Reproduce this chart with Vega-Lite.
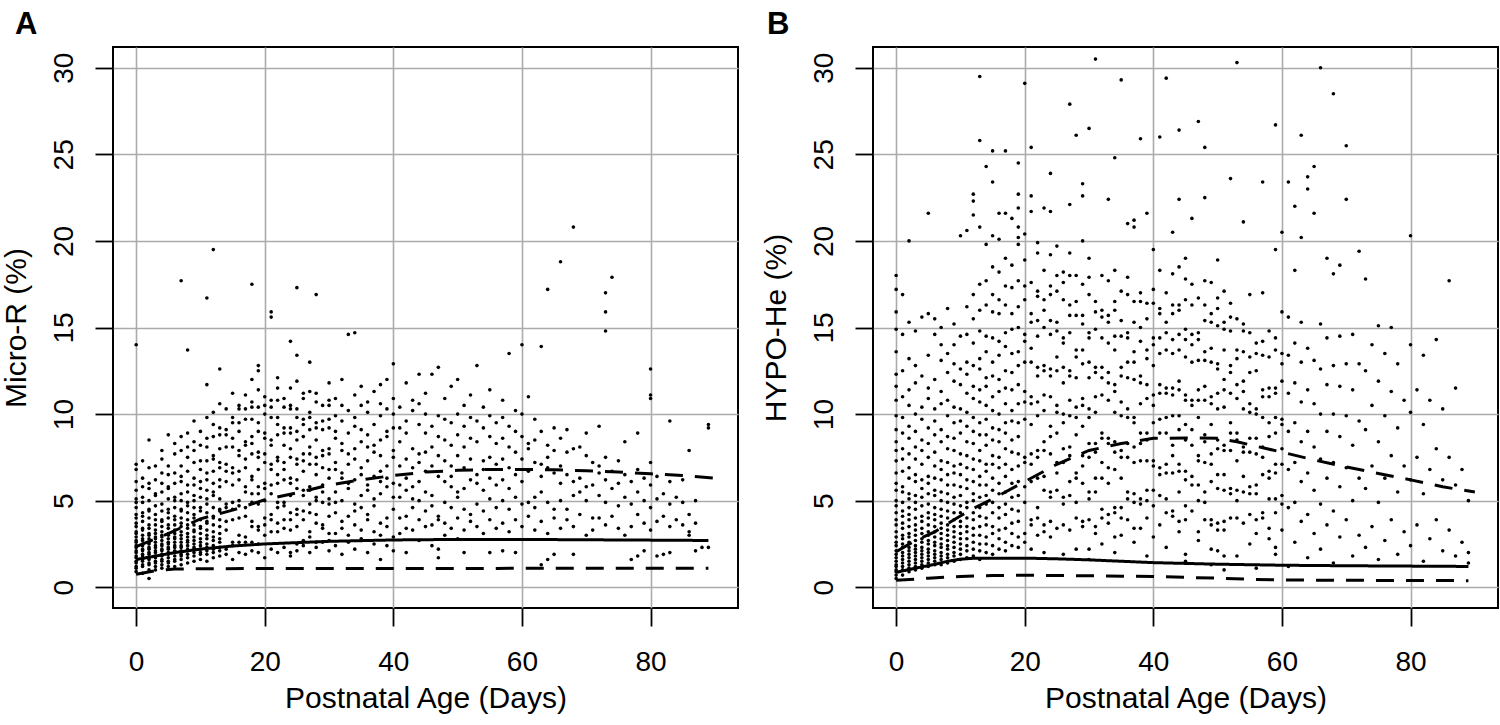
{
"$schema":"https://vega.github.io/schema/vega-lite/v6.json",
"autosize":{"type":"pad"},
"padding":{"left":0,"top":8,"right":0,"bottom":0},
"background":"white",
"config":{
"view":{"stroke":"black","strokeWidth":2},
"axis":{"domain":false,"grid":true,"gridColor":"#ababab","gridWidth":1.6,"tickColor":"black","tickWidth":1.8,"tickSize":18,"labelFont":"Liberation Sans","labelFontSize":28,"labelColor":"black","titleFont":"Liberation Sans","titleFontSize":30,"titleFontWeight":"normal","titleColor":"black"}
},
"datasets":{
"linA":[
{"q":"lo","d":0,"v":0.75},{"q":"lo","d":3,"v":0.95},{"q":"lo","d":6,"v":1.05},{"q":"lo","d":10,"v":1.07},{"q":"lo","d":20,"v":1.08},{"q":"lo","d":40,"v":1.08},{"q":"lo","d":60,"v":1.09},{"q":"lo","d":89,"v":1.09},
{"q":"med","d":0,"v":1.6},{"q":"med","d":3,"v":1.8},{"q":"med","d":6,"v":2.0},{"q":"med","d":10,"v":2.2},{"q":"med","d":15,"v":2.38},{"q":"med","d":20,"v":2.5},{"q":"med","d":30,"v":2.65},{"q":"med","d":40,"v":2.73},{"q":"med","d":50,"v":2.76},{"q":"med","d":60,"v":2.76},{"q":"med","d":70,"v":2.74},{"q":"med","d":80,"v":2.72},{"q":"med","d":89,"v":2.7},
{"q":"hi","d":0,"v":2.35},{"q":"hi","d":5,"v":3.1},{"q":"hi","d":10,"v":3.95},{"q":"hi","d":15,"v":4.45},{"q":"hi","d":20,"v":5.05},{"q":"hi","d":25,"v":5.45},{"q":"hi","d":30,"v":5.9},{"q":"hi","d":35,"v":6.2},{"q":"hi","d":40,"v":6.45},{"q":"hi","d":45,"v":6.65},{"q":"hi","d":50,"v":6.75},{"q":"hi","d":55,"v":6.8},{"q":"hi","d":60,"v":6.8},{"q":"hi","d":65,"v":6.78},{"q":"hi","d":70,"v":6.72},{"q":"hi","d":75,"v":6.65},{"q":"hi","d":80,"v":6.55},{"q":"hi","d":85,"v":6.45},{"q":"hi","d":90,"v":6.3}
],
"linB":[
{"q":"lo","d":0,"v":0.4},{"q":"lo","d":5,"v":0.52},{"q":"lo","d":10,"v":0.62},{"q":"lo","d":15,"v":0.67},{"q":"lo","d":20,"v":0.69},{"q":"lo","d":30,"v":0.66},{"q":"lo","d":40,"v":0.62},{"q":"lo","d":50,"v":0.52},{"q":"lo","d":55,"v":0.46},{"q":"lo","d":60,"v":0.42},{"q":"lo","d":70,"v":0.4},{"q":"lo","d":89,"v":0.38},
{"q":"med","d":0,"v":0.86},{"q":"med","d":3,"v":1.1},{"q":"med","d":6,"v":1.32},{"q":"med","d":8,"v":1.5},{"q":"med","d":10,"v":1.62},{"q":"med","d":12,"v":1.67},{"q":"med","d":20,"v":1.68},{"q":"med","d":25,"v":1.64},{"q":"med","d":30,"v":1.58},{"q":"med","d":35,"v":1.5},{"q":"med","d":40,"v":1.42},{"q":"med","d":50,"v":1.33},{"q":"med","d":60,"v":1.27},{"q":"med","d":70,"v":1.24},{"q":"med","d":89,"v":1.2},
{"q":"hi","d":0,"v":2.05},{"q":"hi","d":3,"v":2.7},{"q":"hi","d":6,"v":3.2},{"q":"hi","d":9,"v":3.9},{"q":"hi","d":12,"v":4.55},{"q":"hi","d":15,"v":5.1},{"q":"hi","d":20,"v":6.1},{"q":"hi","d":25,"v":7.1},{"q":"hi","d":30,"v":7.9},{"q":"hi","d":35,"v":8.3},{"q":"hi","d":40,"v":8.6},{"q":"hi","d":45,"v":8.62},{"q":"hi","d":50,"v":8.6},{"q":"hi","d":53,"v":8.4},{"q":"hi","d":60,"v":7.8},{"q":"hi","d":65,"v":7.35},{"q":"hi","d":70,"v":6.95},{"q":"hi","d":75,"v":6.57},{"q":"hi","d":80,"v":6.2},{"q":"hi","d":85,"v":5.8},{"q":"hi","d":90,"v":5.5}
],
"ptsA":[
{"d":0,"v":0.9},{"d":0,"v":1.1},{"d":0,"v":1.2},{"d":0,"v":1.4},{"d":0,"v":1.5},{"d":0,"v":1.7},{"d":0,"v":1.8},{"d":0,"v":2.0},{"d":0,"v":2.1},{"d":0,"v":2.3},{"d":0,"v":2.4},{"d":0,"v":2.6},{"d":0,"v":2.7},{"d":0,"v":2.9},{"d":0,"v":3.1},{"d":0,"v":3.2},{"d":0,"v":3.5},{"d":0,"v":3.7},{"d":0,"v":4.0},{"d":0,"v":4.2},{"d":0,"v":4.6},{"d":0,"v":4.9},{"d":0,"v":5.1},{"d":0,"v":5.6},{"d":0,"v":6.1},{"d":0,"v":6.8},{"d":0,"v":7.1},{"d":0,"v":14.0},
{"d":1,"v":0.8},{"d":1,"v":1.2},{"d":1,"v":1.3},{"d":1,"v":1.5},{"d":1,"v":1.6},{"d":1,"v":1.8},{"d":1,"v":1.9},{"d":1,"v":2.1},{"d":1,"v":2.2},{"d":1,"v":2.4},{"d":1,"v":2.5},{"d":1,"v":2.7},{"d":1,"v":2.8},{"d":1,"v":3.0},{"d":1,"v":3.3},{"d":1,"v":3.4},{"d":1,"v":3.8},{"d":1,"v":4.1},{"d":1,"v":4.3},{"d":1,"v":4.9},{"d":1,"v":5.2},{"d":1,"v":5.8},{"d":1,"v":6.3},{"d":1,"v":7.3},
{"d":2,"v":0.5},{"d":2,"v":1.0},{"d":2,"v":1.3},{"d":2,"v":1.4},{"d":2,"v":1.6},{"d":2,"v":1.7},{"d":2,"v":1.9},{"d":2,"v":2.0},{"d":2,"v":2.2},{"d":2,"v":2.3},{"d":2,"v":2.5},{"d":2,"v":2.6},{"d":2,"v":2.8},{"d":2,"v":3.0},{"d":2,"v":3.1},{"d":2,"v":3.4},{"d":2,"v":3.6},{"d":2,"v":4.0},{"d":2,"v":4.4},{"d":2,"v":4.5},{"d":2,"v":5.0},{"d":2,"v":5.7},{"d":2,"v":6.0},{"d":2,"v":6.9},{"d":2,"v":8.5},
{"d":3,"v":1.0},{"d":3,"v":1.2},{"d":3,"v":1.4},{"d":3,"v":1.5},{"d":3,"v":1.7},{"d":3,"v":1.8},{"d":3,"v":2.0},{"d":3,"v":2.1},{"d":3,"v":2.3},{"d":3,"v":2.4},{"d":3,"v":2.6},{"d":3,"v":2.8},{"d":3,"v":2.9},{"d":3,"v":3.1},{"d":3,"v":3.3},{"d":3,"v":3.6},{"d":3,"v":3.9},{"d":3,"v":4.2},{"d":3,"v":4.7},{"d":3,"v":5.3},{"d":3,"v":5.4},{"d":3,"v":6.2},{"d":3,"v":7.0},
{"d":4,"v":1.1},{"d":4,"v":1.3},{"d":4,"v":1.5},{"d":4,"v":1.6},{"d":4,"v":1.8},{"d":4,"v":1.9},{"d":4,"v":2.1},{"d":4,"v":2.2},{"d":4,"v":2.4},{"d":4,"v":2.5},{"d":4,"v":2.7},{"d":4,"v":2.9},{"d":4,"v":3.0},{"d":4,"v":3.2},{"d":4,"v":3.5},{"d":4,"v":3.8},{"d":4,"v":3.9},{"d":4,"v":4.4},{"d":4,"v":4.8},{"d":4,"v":5.5},{"d":4,"v":6.0},{"d":4,"v":6.6},{"d":4,"v":7.4},{"d":4,"v":7.9},
{"d":5,"v":1.2},{"d":5,"v":1.4},{"d":5,"v":1.5},{"d":5,"v":1.7},{"d":5,"v":1.9},{"d":5,"v":2.0},{"d":5,"v":2.2},{"d":5,"v":2.3},{"d":5,"v":2.5},{"d":5,"v":2.6},{"d":5,"v":2.8},{"d":5,"v":3.0},{"d":5,"v":3.1},{"d":5,"v":3.4},{"d":5,"v":3.6},{"d":5,"v":4.0},{"d":5,"v":4.3},{"d":5,"v":4.5},{"d":5,"v":5.1},{"d":5,"v":5.7},{"d":5,"v":5.8},{"d":5,"v":6.5},{"d":5,"v":7.0},{"d":5,"v":8.8},
{"d":6,"v":1.2},{"d":6,"v":1.5},{"d":6,"v":1.6},{"d":6,"v":1.8},{"d":6,"v":2.0},{"d":6,"v":2.1},{"d":6,"v":2.3},{"d":6,"v":2.4},{"d":6,"v":2.6},{"d":6,"v":2.8},{"d":6,"v":2.9},{"d":6,"v":3.1},{"d":6,"v":3.3},{"d":6,"v":3.6},{"d":6,"v":3.9},{"d":6,"v":4.1},{"d":6,"v":4.6},{"d":6,"v":5.0},{"d":6,"v":5.2},{"d":6,"v":6.0},{"d":6,"v":6.6},{"d":6,"v":7.7},{"d":6,"v":8.3},
{"d":7,"v":1.3},{"d":7,"v":1.6},{"d":7,"v":1.8},{"d":7,"v":1.9},{"d":7,"v":2.1},{"d":7,"v":2.3},{"d":7,"v":2.4},{"d":7,"v":2.6},{"d":7,"v":2.8},{"d":7,"v":3.0},{"d":7,"v":3.2},{"d":7,"v":3.5},{"d":7,"v":3.7},{"d":7,"v":4.0},{"d":7,"v":4.4},{"d":7,"v":4.5},{"d":7,"v":5.0},{"d":7,"v":5.4},{"d":7,"v":6.1},{"d":7,"v":6.4},{"d":7,"v":7.0},{"d":7,"v":7.9},{"d":7,"v":8.7},{"d":7,"v":17.7},
{"d":8,"v":1.4},{"d":8,"v":1.7},{"d":8,"v":1.9},{"d":8,"v":2.1},{"d":8,"v":2.2},{"d":8,"v":2.4},{"d":8,"v":2.6},{"d":8,"v":2.7},{"d":8,"v":2.9},{"d":8,"v":3.1},{"d":8,"v":3.4},{"d":8,"v":3.6},{"d":8,"v":3.9},{"d":8,"v":4.3},{"d":8,"v":4.7},{"d":8,"v":4.9},{"d":8,"v":5.5},{"d":8,"v":5.9},{"d":8,"v":6.7},{"d":8,"v":7.5},{"d":8,"v":8.1},{"d":8,"v":8.9},{"d":8,"v":13.7},
{"d":9,"v":1.5},{"d":9,"v":1.8},{"d":9,"v":2.0},{"d":9,"v":2.2},{"d":9,"v":2.3},{"d":9,"v":2.5},{"d":9,"v":2.7},{"d":9,"v":2.9},{"d":9,"v":3.2},{"d":9,"v":3.3},{"d":9,"v":3.6},{"d":9,"v":4.0},{"d":9,"v":4.2},{"d":9,"v":4.6},{"d":9,"v":5.0},{"d":9,"v":5.3},{"d":9,"v":5.9},{"d":9,"v":6.3},{"d":9,"v":7.2},{"d":9,"v":7.9},{"d":9,"v":8.4},{"d":9,"v":9.6},
{"d":10,"v":1.6},{"d":10,"v":1.9},{"d":10,"v":2.0},{"d":10,"v":2.2},{"d":10,"v":2.4},{"d":10,"v":2.6},{"d":10,"v":2.8},{"d":10,"v":3.1},{"d":10,"v":3.4},{"d":10,"v":3.5},{"d":10,"v":3.9},{"d":10,"v":4.4},{"d":10,"v":4.6},{"d":10,"v":5.2},{"d":10,"v":5.7},{"d":10,"v":6.1},{"d":10,"v":6.8},{"d":10,"v":7.3},{"d":10,"v":8.2},{"d":10,"v":9.0},
{"d":11,"v":1.5},{"d":11,"v":1.9},{"d":11,"v":2.1},{"d":11,"v":2.3},{"d":11,"v":2.5},{"d":11,"v":2.8},{"d":11,"v":3.0},{"d":11,"v":3.3},{"d":11,"v":3.7},{"d":11,"v":3.8},{"d":11,"v":4.3},{"d":11,"v":4.8},{"d":11,"v":5.1},{"d":11,"v":5.6},{"d":11,"v":6.2},{"d":11,"v":6.6},{"d":11,"v":7.3},{"d":11,"v":8.1},{"d":11,"v":8.6},{"d":11,"v":9.8},{"d":11,"v":11.7},{"d":11,"v":16.7},
{"d":12,"v":1.7},{"d":12,"v":2.0},{"d":12,"v":2.2},{"d":12,"v":2.4},{"d":12,"v":2.7},{"d":12,"v":2.9},{"d":12,"v":3.2},{"d":12,"v":3.6},{"d":12,"v":4.0},{"d":12,"v":4.1},{"d":12,"v":4.6},{"d":12,"v":5.3},{"d":12,"v":5.5},{"d":12,"v":6.0},{"d":12,"v":6.7},{"d":12,"v":7.4},{"d":12,"v":7.6},{"d":12,"v":8.7},{"d":12,"v":9.4},{"d":12,"v":10.1},{"d":12,"v":19.5},
{"d":13,"v":1.8},{"d":13,"v":2.1},{"d":13,"v":2.3},{"d":13,"v":2.6},{"d":13,"v":2.8},{"d":13,"v":3.1},{"d":13,"v":3.5},{"d":13,"v":3.9},{"d":13,"v":4.4},{"d":13,"v":4.5},{"d":13,"v":5.1},{"d":13,"v":5.8},{"d":13,"v":6.2},{"d":13,"v":6.9},{"d":13,"v":7.2},{"d":13,"v":8.0},{"d":13,"v":8.8},{"d":13,"v":9.2},{"d":13,"v":10.6},{"d":13,"v":12.6},
{"d":14,"v":1.9},{"d":14,"v":2.2},{"d":14,"v":3.3},{"d":14,"v":3.8},{"d":14,"v":4.6},{"d":14,"v":4.8},{"d":14,"v":6.1},{"d":14,"v":6.7},{"d":14,"v":7.1},{"d":14,"v":8.1},{"d":14,"v":8.8},{"d":14,"v":9.1},{"d":14,"v":10.3},
{"d":15,"v":1.6},{"d":15,"v":2.4},{"d":15,"v":2.6},{"d":15,"v":3.9},{"d":15,"v":4.5},{"d":15,"v":4.9},{"d":15,"v":5.9},{"d":15,"v":6.6},{"d":15,"v":6.9},{"d":15,"v":8.1},{"d":15,"v":8.6},{"d":15,"v":9.5},{"d":15,"v":9.8},{"d":15,"v":11.2},
{"d":16,"v":2.0},{"d":16,"v":2.6},{"d":16,"v":3.0},{"d":16,"v":4.0},{"d":16,"v":4.7},{"d":16,"v":5.0},{"d":16,"v":6.2},{"d":16,"v":6.7},{"d":16,"v":7.6},{"d":16,"v":7.9},{"d":16,"v":9.0},{"d":16,"v":9.5},{"d":16,"v":10.3},{"d":16,"v":10.5},
{"d":17,"v":1.9},{"d":17,"v":2.6},{"d":17,"v":2.9},{"d":17,"v":4.1},{"d":17,"v":4.6},{"d":17,"v":5.5},{"d":17,"v":5.8},{"d":17,"v":6.9},{"d":17,"v":7.4},{"d":17,"v":8.2},{"d":17,"v":8.4},{"d":17,"v":9.7},{"d":17,"v":10.3},{"d":17,"v":11.1},
{"d":18,"v":2.1},{"d":18,"v":2.6},{"d":18,"v":3.5},{"d":18,"v":3.8},{"d":18,"v":4.9},{"d":18,"v":5.4},{"d":18,"v":6.2},{"d":18,"v":6.4},{"d":18,"v":7.7},{"d":18,"v":8.3},{"d":18,"v":8.7},{"d":18,"v":9.7},{"d":18,"v":10.4},{"d":18,"v":10.7},{"d":18,"v":12.0},{"d":18,"v":17.5},
{"d":19,"v":2.0},{"d":19,"v":2.5},{"d":19,"v":3.3},{"d":19,"v":3.5},{"d":19,"v":4.8},{"d":19,"v":5.4},{"d":19,"v":5.8},{"d":19,"v":6.8},{"d":19,"v":7.5},{"d":19,"v":7.8},{"d":19,"v":9.0},{"d":19,"v":9.5},{"d":19,"v":10.4},{"d":19,"v":11.4},{"d":19,"v":12.5},{"d":19,"v":12.8},
{"d":20,"v":1.7},{"d":20,"v":3.0},{"d":20,"v":3.6},{"d":20,"v":4.0},{"d":20,"v":5.0},{"d":20,"v":5.7},{"d":20,"v":6.0},{"d":20,"v":7.2},{"d":20,"v":7.7},{"d":20,"v":8.6},{"d":20,"v":8.9},{"d":20,"v":10.0},{"d":20,"v":10.5},{"d":20,"v":11.0},
{"d":21,"v":2.2},{"d":21,"v":3.2},{"d":21,"v":3.9},{"d":21,"v":4.2},{"d":21,"v":5.4},{"d":21,"v":5.9},{"d":21,"v":6.8},{"d":21,"v":7.1},{"d":21,"v":8.2},{"d":21,"v":8.5},{"d":21,"v":9.8},{"d":21,"v":10.4},{"d":21,"v":10.8},{"d":21,"v":15.6},{"d":21,"v":15.9},
{"d":22,"v":2.0},{"d":22,"v":3.2},{"d":22,"v":3.7},{"d":22,"v":4.6},{"d":22,"v":4.9},{"d":22,"v":6.0},{"d":22,"v":6.5},{"d":22,"v":7.3},{"d":22,"v":7.5},{"d":22,"v":8.8},{"d":22,"v":9.4},{"d":22,"v":9.8},{"d":22,"v":10.8},{"d":22,"v":11.5},{"d":22,"v":12.1},
{"d":23,"v":2.3},{"d":23,"v":3.4},{"d":23,"v":3.9},{"d":23,"v":4.7},{"d":23,"v":4.9},{"d":23,"v":6.2},{"d":23,"v":6.8},{"d":23,"v":7.2},{"d":23,"v":8.2},{"d":23,"v":8.9},{"d":23,"v":9.2},{"d":23,"v":10.4},{"d":23,"v":10.9},
{"d":24,"v":1.8},{"d":24,"v":2.0},{"d":24,"v":3.3},{"d":24,"v":3.9},{"d":24,"v":4.3},{"d":24,"v":5.3},{"d":24,"v":6.0},{"d":24,"v":6.3},{"d":24,"v":7.5},{"d":24,"v":8.0},{"d":24,"v":8.9},{"d":24,"v":9.2},{"d":24,"v":10.3},{"d":24,"v":10.5},{"d":24,"v":11.5},{"d":24,"v":14.2},
{"d":25,"v":2.1},{"d":25,"v":2.5},{"d":25,"v":3.5},{"d":25,"v":4.2},{"d":25,"v":4.5},{"d":25,"v":5.7},{"d":25,"v":6.2},{"d":25,"v":7.1},{"d":25,"v":7.4},{"d":25,"v":8.5},{"d":25,"v":9.0},{"d":25,"v":9.8},{"d":25,"v":10.3},{"d":25,"v":11.9},{"d":25,"v":13.4},{"d":25,"v":17.3},
{"d":26,"v":2.4},{"d":26,"v":2.7},{"d":26,"v":3.9},{"d":26,"v":4.4},{"d":26,"v":5.3},{"d":26,"v":5.6},{"d":26,"v":6.7},{"d":26,"v":7.3},{"d":26,"v":7.7},{"d":26,"v":8.7},{"d":26,"v":9.4},{"d":26,"v":9.7},{"d":26,"v":10.9},{"d":26,"v":11.2},
{"d":27,"v":2.0},{"d":27,"v":2.9},{"d":27,"v":3.2},{"d":27,"v":4.3},{"d":27,"v":4.8},{"d":27,"v":5.6},{"d":27,"v":5.8},{"d":27,"v":7.1},{"d":27,"v":7.7},{"d":27,"v":8.1},{"d":27,"v":9.1},{"d":27,"v":9.8},{"d":27,"v":10.1},{"d":27,"v":11.3},{"d":27,"v":13.0},
{"d":28,"v":2.3},{"d":28,"v":2.6},{"d":28,"v":3.7},{"d":28,"v":4.2},{"d":28,"v":5.0},{"d":28,"v":5.2},{"d":28,"v":6.5},{"d":28,"v":7.1},{"d":28,"v":7.5},{"d":28,"v":8.5},{"d":28,"v":9.2},{"d":28,"v":9.5},{"d":28,"v":10.7},{"d":28,"v":11.2},{"d":28,"v":16.9},
{"d":29,"v":2.6},{"d":29,"v":3.4},{"d":29,"v":3.6},{"d":29,"v":4.9},{"d":29,"v":5.5},{"d":29,"v":5.9},{"d":29,"v":6.9},{"d":29,"v":7.6},{"d":29,"v":7.9},{"d":29,"v":9.1},{"d":29,"v":9.6},{"d":29,"v":10.5},
{"d":30,"v":2.1},{"d":30,"v":2.7},{"d":30,"v":3.1},{"d":30,"v":4.1},{"d":30,"v":4.8},{"d":30,"v":5.1},{"d":30,"v":6.3},{"d":30,"v":6.8},{"d":30,"v":7.7},{"d":30,"v":8.0},{"d":30,"v":9.2},{"d":30,"v":9.7},{"d":30,"v":10.5},{"d":30,"v":10.8},{"d":30,"v":11.8},
{"d":31,"v":2.4},{"d":31,"v":3.1},{"d":31,"v":4.3},{"d":31,"v":4.9},{"d":31,"v":5.5},{"d":31,"v":6.8},{"d":31,"v":7.2},{"d":31,"v":8.6},{"d":31,"v":9.0},{"d":31,"v":9.9},{"d":31,"v":10.9},
{"d":32,"v":1.9},{"d":32,"v":3.4},{"d":32,"v":3.8},{"d":32,"v":5.0},{"d":32,"v":6.3},{"d":32,"v":6.6},{"d":32,"v":7.9},{"d":32,"v":8.3},{"d":32,"v":9.6},{"d":32,"v":10.5},{"d":32,"v":12.0},
{"d":33,"v":2.6},{"d":33,"v":3.0},{"d":33,"v":4.1},{"d":33,"v":5.7},{"d":33,"v":6.0},{"d":33,"v":7.1},{"d":33,"v":7.7},{"d":33,"v":8.9},{"d":33,"v":10.2},{"d":33,"v":14.6},
{"d":34,"v":2.2},{"d":34,"v":3.6},{"d":34,"v":4.4},{"d":34,"v":4.8},{"d":34,"v":6.2},{"d":34,"v":7.4},{"d":34,"v":8.0},{"d":34,"v":9.3},{"d":34,"v":9.8},{"d":34,"v":11.1},{"d":34,"v":14.7},
{"d":35,"v":2.8},{"d":35,"v":3.3},{"d":35,"v":4.6},{"d":35,"v":5.3},{"d":35,"v":6.5},{"d":35,"v":6.9},{"d":35,"v":8.4},{"d":35,"v":9.1},{"d":35,"v":10.5},{"d":35,"v":11.6},
{"d":36,"v":2.0},{"d":36,"v":3.9},{"d":36,"v":4.2},{"d":36,"v":5.6},{"d":36,"v":5.9},{"d":36,"v":7.3},{"d":36,"v":8.1},{"d":36,"v":8.8},{"d":36,"v":10.1},{"d":36,"v":10.7},
{"d":37,"v":2.5},{"d":37,"v":3.2},{"d":37,"v":4.7},{"d":37,"v":5.1},{"d":37,"v":6.4},{"d":37,"v":7.8},{"d":37,"v":8.2},{"d":37,"v":9.4},{"d":37,"v":11.3},
{"d":38,"v":1.6},{"d":38,"v":3.0},{"d":38,"v":3.7},{"d":38,"v":5.4},{"d":38,"v":6.1},{"d":38,"v":6.7},{"d":38,"v":7.6},{"d":38,"v":8.5},{"d":38,"v":9.9},{"d":38,"v":10.6},{"d":38,"v":11.7},
{"d":39,"v":2.4},{"d":39,"v":3.5},{"d":39,"v":4.0},{"d":39,"v":5.8},{"d":39,"v":6.3},{"d":39,"v":7.0},{"d":39,"v":8.7},{"d":39,"v":9.0},{"d":39,"v":10.3},{"d":39,"v":12.0},
{"d":40,"v":2.1},{"d":40,"v":2.9},{"d":40,"v":4.5},{"d":40,"v":5.2},{"d":40,"v":6.0},{"d":40,"v":7.5},{"d":40,"v":7.9},{"d":40,"v":9.2},{"d":40,"v":10.0},{"d":40,"v":10.9},{"d":40,"v":12.9},
{"d":41,"v":3.1},{"d":41,"v":4.0},{"d":41,"v":5.2},{"d":41,"v":5.9},{"d":41,"v":7.0},{"d":41,"v":8.4},{"d":41,"v":9.2},{"d":41,"v":10.4},
{"d":42,"v":2.0},{"d":42,"v":3.4},{"d":42,"v":4.1},{"d":42,"v":5.6},{"d":42,"v":6.3},{"d":42,"v":7.4},{"d":42,"v":8.9},{"d":42,"v":9.6},{"d":42,"v":11.8},
{"d":43,"v":3.3},{"d":43,"v":4.6},{"d":43,"v":5.1},{"d":43,"v":5.8},{"d":43,"v":6.9},{"d":43,"v":8.0},{"d":43,"v":10.2},{"d":43,"v":10.8},
{"d":44,"v":2.7},{"d":44,"v":3.9},{"d":44,"v":5.0},{"d":44,"v":6.1},{"d":44,"v":7.2},{"d":44,"v":7.7},{"d":44,"v":9.4},{"d":44,"v":10.6},{"d":44,"v":12.3},
{"d":45,"v":3.5},{"d":45,"v":4.4},{"d":45,"v":5.5},{"d":45,"v":6.7},{"d":45,"v":7.8},{"d":45,"v":8.9},{"d":45,"v":10.0},{"d":45,"v":11.2},
{"d":46,"v":2.4},{"d":46,"v":3.6},{"d":46,"v":4.7},{"d":46,"v":5.3},{"d":46,"v":7.0},{"d":46,"v":8.1},{"d":46,"v":9.3},{"d":46,"v":12.3},
{"d":47,"v":1.7},{"d":47,"v":2.2},{"d":47,"v":3.9},{"d":47,"v":4.1},{"d":47,"v":6.4},{"d":47,"v":7.6},{"d":47,"v":8.7},{"d":47,"v":9.9},{"d":47,"v":12.7},
{"d":48,"v":3.0},{"d":48,"v":3.7},{"d":48,"v":4.9},{"d":48,"v":6.1},{"d":48,"v":7.3},{"d":48,"v":8.5},{"d":48,"v":9.7},{"d":48,"v":10.9},
{"d":49,"v":3.4},{"d":49,"v":4.6},{"d":49,"v":5.8},{"d":49,"v":6.4},{"d":49,"v":7.0},{"d":49,"v":8.2},{"d":49,"v":9.5},{"d":49,"v":11.6},
{"d":50,"v":2.8},{"d":50,"v":4.0},{"d":50,"v":5.2},{"d":50,"v":5.5},{"d":50,"v":7.6},{"d":50,"v":8.8},{"d":50,"v":10.0},{"d":50,"v":12.0},
{"d":51,"v":2.0},{"d":51,"v":3.3},{"d":51,"v":4.5},{"d":51,"v":5.7},{"d":51,"v":6.9},{"d":51,"v":8.1},{"d":51,"v":9.3},{"d":51,"v":10.5},
{"d":52,"v":3.8},{"d":52,"v":4.2},{"d":52,"v":6.2},{"d":52,"v":7.4},{"d":52,"v":8.6},{"d":52,"v":9.8},{"d":52,"v":11.1},
{"d":53,"v":3.5},{"d":53,"v":4.8},{"d":53,"v":6.0},{"d":53,"v":6.5},{"d":53,"v":8.4},{"d":53,"v":9.6},{"d":53,"v":12.8},
{"d":54,"v":3.1},{"d":54,"v":4.4},{"d":54,"v":5.6},{"d":54,"v":6.8},{"d":54,"v":7.3},{"d":54,"v":9.2},{"d":54,"v":10.4},
{"d":55,"v":2.0},{"d":55,"v":3.9},{"d":55,"v":5.1},{"d":55,"v":6.3},{"d":55,"v":7.5},{"d":55,"v":8.7},{"d":55,"v":9.9},{"d":55,"v":11.4},
{"d":56,"v":3.4},{"d":56,"v":4.6},{"d":56,"v":5.9},{"d":56,"v":7.1},{"d":56,"v":8.3},{"d":56,"v":9.5},
{"d":57,"v":2.1},{"d":57,"v":3.7},{"d":57,"v":5.0},{"d":57,"v":6.2},{"d":57,"v":7.4},{"d":57,"v":8.6},{"d":57,"v":9.8},{"d":57,"v":10.8},
{"d":58,"v":3.2},{"d":58,"v":4.5},{"d":58,"v":5.7},{"d":58,"v":6.9},{"d":58,"v":8.1},{"d":58,"v":9.3},{"d":58,"v":13.5},
{"d":59,"v":2.0},{"d":59,"v":3.9},{"d":59,"v":5.2},{"d":59,"v":6.5},{"d":59,"v":7.8},{"d":59,"v":9.0},{"d":59,"v":10.2},
{"d":60,"v":3.5},{"d":60,"v":4.8},{"d":60,"v":6.1},{"d":60,"v":7.4},{"d":60,"v":8.7},{"d":60,"v":10.0},{"d":60,"v":14.0},
{"d":61,"v":4.1},{"d":61,"v":4.9},{"d":61,"v":6.7},{"d":61,"v":8.0},{"d":61,"v":8.3},{"d":61,"v":11.0},
{"d":62,"v":3.3},{"d":62,"v":4.6},{"d":62,"v":5.2},{"d":62,"v":7.2},{"d":62,"v":8.5},{"d":62,"v":9.7},
{"d":63,"v":1.3},{"d":63,"v":3.8},{"d":63,"v":5.5},{"d":63,"v":6.4},{"d":63,"v":7.1},{"d":63,"v":9.0},{"d":63,"v":13.9},
{"d":64,"v":1.6},{"d":64,"v":3.1},{"d":64,"v":4.9},{"d":64,"v":6.9},{"d":64,"v":7.5},{"d":64,"v":8.2},{"d":64,"v":17.2},
{"d":65,"v":1.9},{"d":65,"v":4.0},{"d":65,"v":4.5},{"d":65,"v":6.6},{"d":65,"v":7.9},{"d":65,"v":9.2},
{"d":66,"v":3.4},{"d":66,"v":5.0},{"d":66,"v":6.0},{"d":66,"v":7.0},{"d":66,"v":8.6},{"d":66,"v":18.8},
{"d":67,"v":3.9},{"d":67,"v":4.5},{"d":67,"v":6.5},{"d":67,"v":7.8},{"d":67,"v":9.1},
{"d":68,"v":1.9},{"d":68,"v":3.5},{"d":68,"v":5.3},{"d":68,"v":6.1},{"d":68,"v":8.0},{"d":68,"v":20.8},
{"d":69,"v":4.2},{"d":69,"v":5.5},{"d":69,"v":6.3},{"d":69,"v":8.1},
{"d":70,"v":3.0},{"d":70,"v":5.0},{"d":70,"v":5.8},{"d":70,"v":7.6},{"d":70,"v":8.9},
{"d":71,"v":3.3},{"d":71,"v":4.0},{"d":71,"v":5.9},{"d":71,"v":7.2},
{"d":72,"v":4.0},{"d":72,"v":5.3},{"d":72,"v":6.6},{"d":72,"v":7.0},{"d":72,"v":9.3},
{"d":73,"v":3.6},{"d":73,"v":4.9},{"d":73,"v":6.2},{"d":73,"v":7.5},{"d":73,"v":14.8},{"d":73,"v":15.9},{"d":73,"v":17.0},
{"d":74,"v":4.1},{"d":74,"v":5.7},{"d":74,"v":6.7},{"d":74,"v":17.9},
{"d":75,"v":3.4},{"d":75,"v":4.7},{"d":75,"v":6.0},{"d":75,"v":7.3},
{"d":76,"v":3.0},{"d":76,"v":5.2},{"d":76,"v":6.5},{"d":76,"v":8.4},
{"d":77,"v":1.6},{"d":77,"v":3.5},{"d":77,"v":4.8},{"d":77,"v":6.1},
{"d":78,"v":1.8},{"d":78,"v":4.2},{"d":78,"v":5.5},{"d":78,"v":6.8},{"d":78,"v":8.9},
{"d":79,"v":2.1},{"d":79,"v":3.7},{"d":79,"v":5.0},{"d":79,"v":6.3},
{"d":80,"v":3.3},{"d":80,"v":4.6},{"d":80,"v":5.9},{"d":80,"v":7.2},{"d":80,"v":10.9},{"d":80,"v":11.1},{"d":80,"v":12.6},
{"d":81,"v":1.8},{"d":81,"v":3.8},{"d":81,"v":5.1},{"d":81,"v":6.4},
{"d":82,"v":1.9},{"d":82,"v":4.1},{"d":82,"v":5.4},
{"d":83,"v":2.0},{"d":83,"v":3.5},{"d":83,"v":4.8},{"d":83,"v":6.1},{"d":83,"v":9.6},
{"d":84,"v":3.9},{"d":84,"v":5.2},
{"d":85,"v":3.6},{"d":85,"v":4.9},{"d":85,"v":6.2},
{"d":86,"v":3.0},{"d":86,"v":3.2},{"d":86,"v":4.2},{"d":86,"v":7.9},
{"d":87,"v":2.1},{"d":87,"v":3.7},{"d":87,"v":5.0},
{"d":88,"v":2.3},{"d":89,"v":2.3},{"d":89,"v":9.2},{"d":89,"v":9.4}
],
"ptsB":[
{"d":0,"v":0.5},{"d":0,"v":0.7},{"d":0,"v":0.9},{"d":0,"v":1.0},{"d":0,"v":1.2},{"d":0,"v":1.3},{"d":0,"v":1.5},{"d":0,"v":1.7},{"d":0,"v":1.9},{"d":0,"v":2.1},{"d":0,"v":2.4},{"d":0,"v":2.6},{"d":0,"v":2.9},{"d":0,"v":3.2},{"d":0,"v":3.6},{"d":0,"v":3.9},{"d":0,"v":4.3},{"d":0,"v":4.7},{"d":0,"v":5.0},{"d":0,"v":5.6},{"d":0,"v":6.0},{"d":0,"v":6.6},{"d":0,"v":7.3},{"d":0,"v":7.9},{"d":0,"v":8.4},{"d":0,"v":9.1},{"d":0,"v":9.9},{"d":0,"v":10.8},{"d":0,"v":11.6},{"d":0,"v":12.3},{"d":0,"v":13.6},{"d":0,"v":14.9},{"d":0,"v":15.9},{"d":0,"v":17.2},{"d":0,"v":18.0},
{"d":1,"v":0.7},{"d":1,"v":1.0},{"d":1,"v":1.2},{"d":1,"v":1.4},{"d":1,"v":1.6},{"d":1,"v":1.8},{"d":1,"v":2.0},{"d":1,"v":2.3},{"d":1,"v":2.5},{"d":1,"v":2.8},{"d":1,"v":3.0},{"d":1,"v":3.4},{"d":1,"v":3.7},{"d":1,"v":4.1},{"d":1,"v":4.4},{"d":1,"v":4.9},{"d":1,"v":5.5},{"d":1,"v":5.8},{"d":1,"v":6.7},{"d":1,"v":7.4},{"d":1,"v":8.0},{"d":1,"v":8.9},{"d":1,"v":9.8},{"d":1,"v":11.0},{"d":1,"v":12.5},{"d":1,"v":14.6},{"d":1,"v":16.9},
{"d":2,"v":0.9},{"d":2,"v":1.1},{"d":2,"v":1.3},{"d":2,"v":1.5},{"d":2,"v":1.7},{"d":2,"v":1.9},{"d":2,"v":2.1},{"d":2,"v":2.3},{"d":2,"v":2.6},{"d":2,"v":2.9},{"d":2,"v":3.1},{"d":2,"v":3.5},{"d":2,"v":3.9},{"d":2,"v":4.2},{"d":2,"v":4.6},{"d":2,"v":5.1},{"d":2,"v":5.4},{"d":2,"v":6.3},{"d":2,"v":6.9},{"d":2,"v":7.7},{"d":2,"v":8.6},{"d":2,"v":9.3},{"d":2,"v":10.5},{"d":2,"v":11.4},{"d":2,"v":13.2},{"d":2,"v":15.3},{"d":2,"v":20.0},
{"d":3,"v":1.0},{"d":3,"v":1.2},{"d":3,"v":1.4},{"d":3,"v":1.6},{"d":3,"v":1.8},{"d":3,"v":2.0},{"d":3,"v":2.2},{"d":3,"v":2.4},{"d":3,"v":2.7},{"d":3,"v":3.0},{"d":3,"v":3.3},{"d":3,"v":3.6},{"d":3,"v":4.0},{"d":3,"v":4.5},{"d":3,"v":4.9},{"d":3,"v":5.3},{"d":3,"v":6.1},{"d":3,"v":6.5},{"d":3,"v":7.4},{"d":3,"v":8.1},{"d":3,"v":9.0},{"d":3,"v":10.0},{"d":3,"v":11.8},{"d":3,"v":12.8},{"d":3,"v":14.8},
{"d":4,"v":1.1},{"d":4,"v":1.3},{"d":4,"v":1.5},{"d":4,"v":1.7},{"d":4,"v":1.9},{"d":4,"v":2.1},{"d":4,"v":2.3},{"d":4,"v":2.6},{"d":4,"v":2.8},{"d":4,"v":3.1},{"d":4,"v":3.4},{"d":4,"v":3.8},{"d":4,"v":4.1},{"d":4,"v":4.7},{"d":4,"v":5.2},{"d":4,"v":5.7},{"d":4,"v":6.2},{"d":4,"v":7.1},{"d":4,"v":7.9},{"d":4,"v":8.5},{"d":4,"v":9.7},{"d":4,"v":10.4},{"d":4,"v":12.2},{"d":4,"v":15.6},
{"d":5,"v":1.2},{"d":5,"v":1.4},{"d":5,"v":1.6},{"d":5,"v":1.8},{"d":5,"v":2.0},{"d":5,"v":2.2},{"d":5,"v":2.5},{"d":5,"v":2.7},{"d":5,"v":3.0},{"d":5,"v":3.2},{"d":5,"v":3.6},{"d":5,"v":4.0},{"d":5,"v":4.3},{"d":5,"v":4.8},{"d":5,"v":5.4},{"d":5,"v":6.0},{"d":5,"v":6.4},{"d":5,"v":7.5},{"d":5,"v":8.3},{"d":5,"v":9.2},{"d":5,"v":10.9},{"d":5,"v":11.5},{"d":5,"v":13.4},{"d":5,"v":15.8},{"d":5,"v":21.6},
{"d":6,"v":1.3},{"d":6,"v":1.5},{"d":6,"v":1.7},{"d":6,"v":1.9},{"d":6,"v":2.1},{"d":6,"v":2.4},{"d":6,"v":2.6},{"d":6,"v":2.9},{"d":6,"v":3.2},{"d":6,"v":3.5},{"d":6,"v":3.9},{"d":6,"v":4.2},{"d":6,"v":4.6},{"d":6,"v":5.3},{"d":6,"v":5.6},{"d":6,"v":6.3},{"d":6,"v":7.0},{"d":6,"v":7.8},{"d":6,"v":8.8},{"d":6,"v":9.6},{"d":6,"v":10.3},{"d":6,"v":12.0},{"d":6,"v":14.6},{"d":6,"v":15.5},
{"d":7,"v":1.3},{"d":7,"v":1.6},{"d":7,"v":1.8},{"d":7,"v":2.0},{"d":7,"v":2.3},{"d":7,"v":2.5},{"d":7,"v":2.8},{"d":7,"v":3.1},{"d":7,"v":3.4},{"d":7,"v":3.7},{"d":7,"v":4.1},{"d":7,"v":4.5},{"d":7,"v":5.0},{"d":7,"v":5.5},{"d":7,"v":6.2},{"d":7,"v":6.8},{"d":7,"v":7.3},{"d":7,"v":8.4},{"d":7,"v":9.1},{"d":7,"v":10.6},{"d":7,"v":11.3},{"d":7,"v":13.1},{"d":7,"v":14.0},{"d":7,"v":15.0},
{"d":8,"v":1.4},{"d":8,"v":1.7},{"d":8,"v":1.9},{"d":8,"v":2.2},{"d":8,"v":2.4},{"d":8,"v":2.7},{"d":8,"v":3.0},{"d":8,"v":3.3},{"d":8,"v":3.6},{"d":8,"v":4.0},{"d":8,"v":4.4},{"d":8,"v":4.9},{"d":8,"v":5.4},{"d":8,"v":5.9},{"d":8,"v":6.5},{"d":8,"v":7.2},{"d":8,"v":8.0},{"d":8,"v":8.7},{"d":8,"v":9.9},{"d":8,"v":10.8},{"d":8,"v":12.4},{"d":8,"v":13.5},{"d":8,"v":16.1},
{"d":9,"v":1.5},{"d":9,"v":1.8},{"d":9,"v":2.0},{"d":9,"v":2.3},{"d":9,"v":2.6},{"d":9,"v":2.9},{"d":9,"v":3.2},{"d":9,"v":3.5},{"d":9,"v":3.9},{"d":9,"v":4.3},{"d":9,"v":4.8},{"d":9,"v":5.2},{"d":9,"v":5.9},{"d":9,"v":6.6},{"d":9,"v":7.0},{"d":9,"v":7.9},{"d":9,"v":8.6},{"d":9,"v":9.5},{"d":9,"v":10.4},{"d":9,"v":11.9},{"d":9,"v":12.9},{"d":9,"v":14.0},{"d":9,"v":15.2},
{"d":10,"v":1.6},{"d":10,"v":1.9},{"d":10,"v":2.2},{"d":10,"v":2.5},{"d":10,"v":2.8},{"d":10,"v":3.1},{"d":10,"v":3.5},{"d":10,"v":3.8},{"d":10,"v":4.3},{"d":10,"v":4.7},{"d":10,"v":5.3},{"d":10,"v":5.8},{"d":10,"v":6.5},{"d":10,"v":7.1},{"d":10,"v":7.7},{"d":10,"v":8.9},{"d":10,"v":9.6},{"d":10,"v":10.3},{"d":10,"v":11.7},{"d":10,"v":12.6},{"d":10,"v":14.5},{"d":10,"v":20.3},
{"d":11,"v":1.7},{"d":11,"v":2.1},{"d":11,"v":2.4},{"d":11,"v":2.8},{"d":11,"v":3.2},{"d":11,"v":3.5},{"d":11,"v":4.0},{"d":11,"v":4.6},{"d":11,"v":4.9},{"d":11,"v":5.7},{"d":11,"v":6.2},{"d":11,"v":6.9},{"d":11,"v":7.6},{"d":11,"v":8.4},{"d":11,"v":9.3},{"d":11,"v":10.1},{"d":11,"v":11.2},{"d":11,"v":12.3},{"d":11,"v":13.0},{"d":11,"v":14.6},{"d":11,"v":16.2},{"d":11,"v":20.6},
{"d":12,"v":1.8},{"d":12,"v":2.2},{"d":12,"v":2.6},{"d":12,"v":3.0},{"d":12,"v":3.4},{"d":12,"v":3.9},{"d":12,"v":4.3},{"d":12,"v":5.0},{"d":12,"v":5.4},{"d":12,"v":6.1},{"d":12,"v":6.8},{"d":12,"v":7.4},{"d":12,"v":8.3},{"d":12,"v":9.0},{"d":12,"v":9.8},{"d":12,"v":10.9},{"d":12,"v":11.6},{"d":12,"v":12.8},{"d":12,"v":14.1},{"d":12,"v":15.5},{"d":12,"v":16.9},{"d":12,"v":21.5},{"d":12,"v":22.3},{"d":12,"v":22.7},
{"d":13,"v":1.6},{"d":13,"v":2.1},{"d":13,"v":2.5},{"d":13,"v":3.0},{"d":13,"v":3.5},{"d":13,"v":4.1},{"d":13,"v":4.6},{"d":13,"v":5.2},{"d":13,"v":5.9},{"d":13,"v":6.4},{"d":13,"v":7.3},{"d":13,"v":7.9},{"d":13,"v":8.8},{"d":13,"v":9.5},{"d":13,"v":10.7},{"d":13,"v":11.4},{"d":13,"v":12.6},{"d":13,"v":13.2},{"d":13,"v":14.8},{"d":13,"v":16.0},{"d":13,"v":17.5},{"d":13,"v":20.8},{"d":13,"v":25.8},{"d":13,"v":29.5},
{"d":14,"v":2.0},{"d":14,"v":2.5},{"d":14,"v":2.9},{"d":14,"v":3.6},{"d":14,"v":4.0},{"d":14,"v":4.8},{"d":14,"v":5.3},{"d":14,"v":5.9},{"d":14,"v":6.7},{"d":14,"v":7.1},{"d":14,"v":8.2},{"d":14,"v":8.8},{"d":14,"v":9.7},{"d":14,"v":10.5},{"d":14,"v":11.6},{"d":14,"v":12.1},{"d":14,"v":13.6},{"d":14,"v":14.5},{"d":14,"v":16.3},{"d":14,"v":17.7},{"d":14,"v":19.8},{"d":14,"v":24.3},
{"d":15,"v":1.9},{"d":15,"v":2.4},{"d":15,"v":3.1},{"d":15,"v":3.5},{"d":15,"v":4.3},{"d":15,"v":4.9},{"d":15,"v":5.6},{"d":15,"v":6.3},{"d":15,"v":7.1},{"d":15,"v":7.6},{"d":15,"v":8.5},{"d":15,"v":9.2},{"d":15,"v":10.2},{"d":15,"v":11.0},{"d":15,"v":12.2},{"d":15,"v":13.0},{"d":15,"v":14.4},{"d":15,"v":15.9},{"d":15,"v":16.9},{"d":15,"v":18.5},{"d":15,"v":20.3},{"d":15,"v":23.4},{"d":15,"v":25.2},
{"d":16,"v":2.2},{"d":16,"v":2.8},{"d":16,"v":3.3},{"d":16,"v":4.0},{"d":16,"v":4.6},{"d":16,"v":5.4},{"d":16,"v":6.0},{"d":16,"v":6.9},{"d":16,"v":7.5},{"d":16,"v":8.4},{"d":16,"v":9.1},{"d":16,"v":10.0},{"d":16,"v":11.3},{"d":16,"v":12.0},{"d":16,"v":13.4},{"d":16,"v":14.2},{"d":16,"v":15.8},{"d":16,"v":16.6},{"d":16,"v":18.2},{"d":16,"v":20.1},{"d":16,"v":21.6},
{"d":17,"v":2.1},{"d":17,"v":2.6},{"d":17,"v":3.4},{"d":17,"v":4.2},{"d":17,"v":4.8},{"d":17,"v":5.5},{"d":17,"v":6.4},{"d":17,"v":7.1},{"d":17,"v":8.0},{"d":17,"v":8.9},{"d":17,"v":9.5},{"d":17,"v":10.6},{"d":17,"v":11.5},{"d":17,"v":12.5},{"d":17,"v":13.9},{"d":17,"v":14.7},{"d":17,"v":16.3},{"d":17,"v":17.4},{"d":17,"v":19.0},{"d":17,"v":21.6},{"d":17,"v":25.2},
{"d":18,"v":2.4},{"d":18,"v":3.1},{"d":18,"v":3.7},{"d":18,"v":4.5},{"d":18,"v":5.2},{"d":18,"v":6.0},{"d":18,"v":6.8},{"d":18,"v":7.8},{"d":18,"v":8.5},{"d":18,"v":9.6},{"d":18,"v":10.2},{"d":18,"v":11.4},{"d":18,"v":12.4},{"d":18,"v":13.5},{"d":18,"v":14.9},{"d":18,"v":15.8},{"d":18,"v":17.3},{"d":18,"v":18.6},{"d":18,"v":21.3},
{"d":19,"v":2.3},{"d":19,"v":2.9},{"d":19,"v":3.8},{"d":19,"v":4.4},{"d":19,"v":5.3},{"d":19,"v":6.1},{"d":19,"v":7.0},{"d":19,"v":7.7},{"d":19,"v":8.7},{"d":19,"v":9.5},{"d":19,"v":10.6},{"d":19,"v":11.7},{"d":19,"v":12.8},{"d":19,"v":13.6},{"d":19,"v":15.0},{"d":19,"v":16.2},{"d":19,"v":17.7},{"d":19,"v":19.8},{"d":19,"v":20.2},{"d":19,"v":20.8},{"d":19,"v":21.9},{"d":19,"v":22.7},{"d":19,"v":24.5},
{"d":20,"v":2.6},{"d":20,"v":3.1},{"d":20,"v":4.9},{"d":20,"v":5.8},{"d":20,"v":7.2},{"d":20,"v":7.5},{"d":20,"v":9.7},{"d":20,"v":10.7},{"d":20,"v":11.3},{"d":20,"v":13.0},{"d":20,"v":14.2},{"d":20,"v":14.6},{"d":20,"v":16.6},{"d":20,"v":17.4},{"d":20,"v":18.9},{"d":20,"v":20.4},{"d":20,"v":29.1},
{"d":21,"v":2.2},{"d":21,"v":3.6},{"d":21,"v":3.9},{"d":21,"v":6.1},{"d":21,"v":7.1},{"d":21,"v":7.7},{"d":21,"v":9.4},{"d":21,"v":10.6},{"d":21,"v":11.0},{"d":21,"v":13.0},{"d":21,"v":13.8},{"d":21,"v":15.3},{"d":21,"v":15.8},{"d":21,"v":17.6},{"d":21,"v":21.7},{"d":21,"v":22.6},{"d":21,"v":25.4},
{"d":22,"v":3.0},{"d":22,"v":4.0},{"d":22,"v":4.6},{"d":22,"v":6.3},{"d":22,"v":7.5},{"d":22,"v":7.9},{"d":22,"v":9.9},{"d":22,"v":10.7},{"d":22,"v":12.2},{"d":22,"v":12.7},{"d":22,"v":14.5},{"d":22,"v":15.4},{"d":22,"v":16.8},{"d":22,"v":17.1},{"d":22,"v":19.3},{"d":22,"v":19.9},
{"d":23,"v":2.0},{"d":23,"v":3.2},{"d":23,"v":3.6},{"d":23,"v":5.6},{"d":23,"v":6.4},{"d":23,"v":7.9},{"d":23,"v":8.4},{"d":23,"v":10.2},{"d":23,"v":11.1},{"d":23,"v":12.5},{"d":23,"v":12.8},{"d":23,"v":15.0},{"d":23,"v":16.0},{"d":23,"v":16.6},{"d":23,"v":18.3},{"d":23,"v":21.9},
{"d":24,"v":2.9},{"d":24,"v":3.8},{"d":24,"v":5.2},{"d":24,"v":5.5},{"d":24,"v":7.7},{"d":24,"v":8.7},{"d":24,"v":9.3},{"d":24,"v":11.0},{"d":24,"v":12.2},{"d":24,"v":12.6},{"d":24,"v":14.6},{"d":24,"v":15.4},{"d":24,"v":16.9},{"d":24,"v":17.4},{"d":24,"v":19.2},{"d":24,"v":21.7},{"d":24,"v":23.9},
{"d":25,"v":3.4},{"d":25,"v":5.6},{"d":25,"v":6.6},{"d":25,"v":7.2},{"d":25,"v":8.9},{"d":25,"v":10.1},{"d":25,"v":10.5},{"d":25,"v":12.5},{"d":25,"v":13.3},{"d":25,"v":14.8},{"d":25,"v":15.3},{"d":25,"v":17.1},{"d":25,"v":18.0},{"d":25,"v":19.7},
{"d":26,"v":1.9},{"d":26,"v":3.6},{"d":26,"v":4.8},{"d":26,"v":5.2},{"d":26,"v":7.2},{"d":26,"v":8.0},{"d":26,"v":9.5},{"d":26,"v":10.0},{"d":26,"v":11.8},{"d":26,"v":12.7},{"d":26,"v":14.1},{"d":26,"v":14.4},{"d":26,"v":16.6},{"d":26,"v":17.6},{"d":26,"v":18.2},
{"d":27,"v":3.3},{"d":27,"v":5.3},{"d":27,"v":6.1},{"d":27,"v":7.6},{"d":27,"v":8.1},{"d":27,"v":9.9},{"d":27,"v":10.8},{"d":27,"v":12.2},{"d":27,"v":12.5},{"d":27,"v":14.7},{"d":27,"v":15.7},{"d":27,"v":16.3},{"d":27,"v":18.0},{"d":27,"v":19.3},{"d":27,"v":22.1},{"d":27,"v":27.9},
{"d":28,"v":2.2},{"d":28,"v":4.0},{"d":28,"v":4.9},{"d":28,"v":6.3},{"d":28,"v":6.6},{"d":28,"v":8.8},{"d":28,"v":9.8},{"d":28,"v":10.4},{"d":28,"v":12.1},{"d":28,"v":13.3},{"d":28,"v":13.7},{"d":28,"v":15.7},{"d":28,"v":16.5},{"d":28,"v":18.0},{"d":28,"v":26.1},
{"d":29,"v":3.5},{"d":29,"v":3.8},{"d":29,"v":6.0},{"d":29,"v":7.0},{"d":29,"v":7.6},{"d":29,"v":9.3},{"d":29,"v":10.5},{"d":29,"v":10.9},{"d":29,"v":12.9},{"d":29,"v":13.7},{"d":29,"v":15.2},{"d":29,"v":15.7},{"d":29,"v":17.5},{"d":29,"v":20.0},{"d":29,"v":22.6},{"d":29,"v":23.3},
{"d":30,"v":1.6},{"d":30,"v":2.2},{"d":30,"v":3.9},{"d":30,"v":5.1},{"d":30,"v":5.5},{"d":30,"v":7.5},{"d":30,"v":8.3},{"d":30,"v":9.8},{"d":30,"v":10.3},{"d":30,"v":12.1},{"d":30,"v":13.0},{"d":30,"v":14.4},{"d":30,"v":14.7},{"d":30,"v":16.9},{"d":30,"v":17.9},{"d":30,"v":19.0},{"d":30,"v":26.5},
{"d":31,"v":3.1},{"d":31,"v":3.5},{"d":31,"v":5.5},{"d":31,"v":6.3},{"d":31,"v":7.8},{"d":31,"v":8.3},{"d":31,"v":10.1},{"d":31,"v":11.0},{"d":31,"v":12.4},{"d":31,"v":12.7},{"d":31,"v":14.9},{"d":31,"v":15.9},{"d":31,"v":16.5},{"d":31,"v":30.5},
{"d":32,"v":2.5},{"d":32,"v":4.0},{"d":32,"v":4.5},{"d":32,"v":6.3},{"d":32,"v":7.2},{"d":32,"v":8.6},{"d":32,"v":8.9},{"d":32,"v":11.1},{"d":32,"v":12.1},{"d":32,"v":12.7},{"d":32,"v":14.4},{"d":32,"v":15.6},{"d":32,"v":16.0},{"d":32,"v":18.0},
{"d":33,"v":3.7},{"d":33,"v":4.2},{"d":33,"v":6.0},{"d":33,"v":6.9},{"d":33,"v":8.3},{"d":33,"v":8.6},{"d":33,"v":10.8},{"d":33,"v":11.8},{"d":33,"v":12.4},{"d":33,"v":14.1},{"d":33,"v":15.3},{"d":33,"v":15.7},{"d":33,"v":17.7},{"d":33,"v":22.4},
{"d":34,"v":2.0},{"d":34,"v":2.9},{"d":34,"v":4.3},{"d":34,"v":4.6},{"d":34,"v":6.8},{"d":34,"v":7.8},{"d":34,"v":8.4},{"d":34,"v":10.1},{"d":34,"v":11.3},{"d":34,"v":11.7},{"d":34,"v":13.7},{"d":34,"v":14.5},{"d":34,"v":16.0},{"d":34,"v":16.5},{"d":34,"v":18.3},{"d":34,"v":24.8},
{"d":35,"v":3.0},{"d":35,"v":4.0},{"d":35,"v":4.6},{"d":35,"v":6.3},{"d":35,"v":7.5},{"d":35,"v":7.9},{"d":35,"v":9.9},{"d":35,"v":10.7},{"d":35,"v":12.2},{"d":35,"v":12.7},{"d":35,"v":14.5},{"d":35,"v":15.4},{"d":35,"v":17.1},{"d":35,"v":29.3},
{"d":36,"v":3.9},{"d":36,"v":5.1},{"d":36,"v":5.5},{"d":36,"v":7.5},{"d":36,"v":8.3},{"d":36,"v":9.8},{"d":36,"v":10.3},{"d":36,"v":12.1},{"d":36,"v":13.0},{"d":36,"v":14.4},{"d":36,"v":14.7},{"d":36,"v":16.9},{"d":36,"v":17.9},{"d":36,"v":21.0},
{"d":37,"v":2.6},{"d":37,"v":3.4},{"d":37,"v":4.9},{"d":37,"v":5.4},{"d":37,"v":7.2},{"d":37,"v":8.1},{"d":37,"v":9.5},{"d":37,"v":9.8},{"d":37,"v":12.0},{"d":37,"v":13.0},{"d":37,"v":13.6},{"d":37,"v":15.3},{"d":37,"v":16.5},{"d":37,"v":20.8},{"d":37,"v":21.2},
{"d":38,"v":3.4},{"d":38,"v":4.8},{"d":38,"v":5.1},{"d":38,"v":7.3},{"d":38,"v":8.3},{"d":38,"v":8.9},{"d":38,"v":10.6},{"d":38,"v":11.8},{"d":38,"v":12.2},{"d":38,"v":14.2},{"d":38,"v":15.0},{"d":38,"v":16.5},{"d":38,"v":17.0},{"d":38,"v":25.9},
{"d":39,"v":1.8},{"d":39,"v":4.0},{"d":39,"v":5.0},{"d":39,"v":5.6},{"d":39,"v":7.3},{"d":39,"v":8.5},{"d":39,"v":8.9},{"d":39,"v":10.9},{"d":39,"v":11.7},{"d":39,"v":13.2},{"d":39,"v":13.7},{"d":39,"v":15.5},{"d":39,"v":16.4},{"d":39,"v":21.6},
{"d":40,"v":2.9},{"d":40,"v":4.7},{"d":40,"v":5.6},{"d":40,"v":7.0},{"d":40,"v":7.3},{"d":40,"v":9.5},{"d":40,"v":10.5},{"d":40,"v":11.1},{"d":40,"v":12.8},{"d":40,"v":14.0},{"d":40,"v":14.4},{"d":40,"v":16.4},{"d":40,"v":17.2},{"d":40,"v":19.5},
{"d":41,"v":3.6},{"d":41,"v":5.3},{"d":41,"v":6.5},{"d":41,"v":6.9},{"d":41,"v":8.9},{"d":41,"v":9.7},{"d":41,"v":11.2},{"d":41,"v":11.7},{"d":41,"v":13.5},{"d":41,"v":14.4},{"d":41,"v":15.8},{"d":41,"v":16.1},{"d":41,"v":18.3},{"d":41,"v":26.0},
{"d":42,"v":2.3},{"d":42,"v":4.3},{"d":42,"v":5.1},{"d":42,"v":6.6},{"d":42,"v":7.1},{"d":42,"v":8.9},{"d":42,"v":9.8},{"d":42,"v":11.2},{"d":42,"v":11.5},{"d":42,"v":13.7},{"d":42,"v":14.7},{"d":42,"v":15.3},{"d":42,"v":17.0},{"d":42,"v":29.4},
{"d":43,"v":4.1},{"d":43,"v":4.4},{"d":43,"v":6.6},{"d":43,"v":7.6},{"d":43,"v":8.2},{"d":43,"v":9.9},{"d":43,"v":11.1},{"d":43,"v":11.5},{"d":43,"v":13.5},{"d":43,"v":14.3},{"d":43,"v":15.8},{"d":43,"v":16.3},{"d":43,"v":18.1},{"d":43,"v":20.5},
{"d":44,"v":3.2},{"d":44,"v":3.8},{"d":44,"v":5.5},{"d":44,"v":6.7},{"d":44,"v":7.1},{"d":44,"v":9.1},{"d":44,"v":9.9},{"d":44,"v":11.4},{"d":44,"v":11.9},{"d":44,"v":13.7},{"d":44,"v":14.6},{"d":44,"v":16.0},{"d":44,"v":16.3},{"d":44,"v":18.5},{"d":44,"v":22.4},{"d":44,"v":26.4},
{"d":45,"v":1.5},{"d":45,"v":1.9},{"d":45,"v":3.9},{"d":45,"v":4.7},{"d":45,"v":6.2},{"d":45,"v":6.7},{"d":45,"v":8.5},{"d":45,"v":9.4},{"d":45,"v":10.8},{"d":45,"v":11.1},{"d":45,"v":13.3},{"d":45,"v":14.3},{"d":45,"v":14.9},{"d":45,"v":16.6},{"d":45,"v":17.8},{"d":45,"v":19.0},
{"d":46,"v":4.4},{"d":46,"v":5.9},{"d":46,"v":6.4},{"d":46,"v":8.2},{"d":46,"v":9.1},{"d":46,"v":10.5},{"d":46,"v":10.8},{"d":46,"v":13.0},{"d":46,"v":14.0},{"d":46,"v":14.6},{"d":46,"v":16.3},{"d":46,"v":17.5},{"d":46,"v":21.3},
{"d":47,"v":2.7},{"d":47,"v":3.2},{"d":47,"v":5.0},{"d":47,"v":5.9},{"d":47,"v":7.3},{"d":47,"v":7.6},{"d":47,"v":9.8},{"d":47,"v":10.8},{"d":47,"v":11.4},{"d":47,"v":13.1},{"d":47,"v":14.3},{"d":47,"v":14.7},{"d":47,"v":16.7},{"d":47,"v":26.9},
{"d":48,"v":3.9},{"d":48,"v":4.9},{"d":48,"v":5.5},{"d":48,"v":7.2},{"d":48,"v":8.4},{"d":48,"v":8.8},{"d":48,"v":10.8},{"d":48,"v":11.6},{"d":48,"v":13.1},{"d":48,"v":13.6},{"d":48,"v":15.4},{"d":48,"v":16.3},{"d":48,"v":17.7},{"d":48,"v":22.5},{"d":48,"v":25.4},
{"d":49,"v":1.3},{"d":49,"v":2.2},{"d":49,"v":3.6},{"d":49,"v":3.9},{"d":49,"v":6.1},{"d":49,"v":7.1},{"d":49,"v":7.7},{"d":49,"v":9.4},{"d":49,"v":10.6},{"d":49,"v":11.0},{"d":49,"v":13.0},{"d":49,"v":13.8},{"d":49,"v":15.3},{"d":49,"v":15.8},{"d":49,"v":17.6},
{"d":50,"v":2.1},{"d":50,"v":3.3},{"d":50,"v":3.7},{"d":50,"v":5.7},{"d":50,"v":6.5},{"d":50,"v":8.0},{"d":50,"v":8.5},{"d":50,"v":10.3},{"d":50,"v":11.2},{"d":50,"v":12.6},{"d":50,"v":12.9},{"d":50,"v":15.1},{"d":50,"v":16.1},{"d":50,"v":16.7},{"d":50,"v":18.9},
{"d":51,"v":1.0},{"d":51,"v":1.8},{"d":51,"v":3.3},{"d":51,"v":3.8},{"d":51,"v":5.6},{"d":51,"v":6.5},{"d":51,"v":7.9},{"d":51,"v":8.2},{"d":51,"v":10.4},{"d":51,"v":11.4},{"d":51,"v":12.0},{"d":51,"v":13.7},{"d":51,"v":14.9},{"d":51,"v":15.3},{"d":51,"v":17.1},
{"d":52,"v":4.0},{"d":52,"v":5.4},{"d":52,"v":5.7},{"d":52,"v":7.9},{"d":52,"v":8.9},{"d":52,"v":9.5},{"d":52,"v":11.2},{"d":52,"v":12.4},{"d":52,"v":12.8},{"d":52,"v":14.8},{"d":52,"v":15.6},{"d":52,"v":16.4},{"d":52,"v":23.6},
{"d":53,"v":1.8},{"d":53,"v":4.0},{"d":53,"v":5.0},{"d":53,"v":5.6},{"d":53,"v":7.3},{"d":53,"v":8.5},{"d":53,"v":8.9},{"d":53,"v":10.9},{"d":53,"v":11.7},{"d":53,"v":13.2},{"d":53,"v":13.7},{"d":53,"v":15.5},{"d":53,"v":30.3},
{"d":54,"v":3.7},{"d":54,"v":5.5},{"d":54,"v":6.4},{"d":54,"v":7.8},{"d":54,"v":8.1},{"d":54,"v":10.3},{"d":54,"v":11.3},{"d":54,"v":11.9},{"d":54,"v":13.6},{"d":54,"v":14.8},{"d":54,"v":15.2},{"d":54,"v":21.1},
{"d":55,"v":2.5},{"d":55,"v":4.2},{"d":55,"v":5.4},{"d":55,"v":5.8},{"d":55,"v":7.8},{"d":55,"v":8.6},{"d":55,"v":10.1},{"d":55,"v":10.6},{"d":55,"v":12.4},{"d":55,"v":13.3},{"d":55,"v":14.7},{"d":55,"v":16.9},
{"d":56,"v":1.1},{"d":56,"v":3.1},{"d":56,"v":3.9},{"d":56,"v":5.4},{"d":56,"v":5.9},{"d":56,"v":7.7},{"d":56,"v":8.6},{"d":56,"v":10.0},{"d":56,"v":10.3},{"d":56,"v":12.5},{"d":56,"v":13.5},{"d":56,"v":14.1},
{"d":57,"v":4.0},{"d":57,"v":4.3},{"d":57,"v":6.5},{"d":57,"v":7.5},{"d":57,"v":8.1},{"d":57,"v":9.8},{"d":57,"v":11.0},{"d":57,"v":11.4},{"d":57,"v":13.4},{"d":57,"v":14.2},{"d":57,"v":17.0},{"d":57,"v":23.4},
{"d":58,"v":2.8},{"d":58,"v":3.4},{"d":58,"v":5.1},{"d":58,"v":6.3},{"d":58,"v":6.7},{"d":58,"v":8.7},{"d":58,"v":9.5},{"d":58,"v":11.0},{"d":58,"v":11.5},{"d":58,"v":13.3},{"d":58,"v":14.8},
{"d":59,"v":1.9},{"d":59,"v":2.3},{"d":59,"v":4.3},{"d":59,"v":5.1},{"d":59,"v":6.6},{"d":59,"v":7.1},{"d":59,"v":8.9},{"d":59,"v":9.8},{"d":59,"v":11.2},{"d":59,"v":11.5},{"d":59,"v":13.7},{"d":59,"v":14.4},{"d":59,"v":19.5},{"d":59,"v":26.7},
{"d":60,"v":3.3},{"d":60,"v":4.8},{"d":60,"v":5.3},{"d":60,"v":7.1},{"d":60,"v":8.0},{"d":60,"v":9.4},{"d":60,"v":9.7},{"d":60,"v":11.9},{"d":60,"v":12.9},{"d":60,"v":13.5},{"d":60,"v":15.9},{"d":60,"v":20.5},
{"d":61,"v":1.2},{"d":61,"v":4.6},{"d":61,"v":6.8},{"d":61,"v":9.0},{"d":61,"v":11.2},{"d":61,"v":13.4},{"d":61,"v":15.6},{"d":61,"v":23.4},
{"d":62,"v":2.6},{"d":62,"v":4.9},{"d":62,"v":7.2},{"d":62,"v":9.5},{"d":62,"v":11.8},{"d":62,"v":14.1},{"d":62,"v":18.3},{"d":62,"v":22.0},
{"d":63,"v":3.8},{"d":63,"v":6.1},{"d":63,"v":8.4},{"d":63,"v":10.7},{"d":63,"v":13.0},{"d":63,"v":15.3},{"d":63,"v":20.2},{"d":63,"v":26.1},
{"d":64,"v":1.7},{"d":64,"v":4.2},{"d":64,"v":6.6},{"d":64,"v":9.0},{"d":64,"v":11.4},{"d":64,"v":13.8},{"d":64,"v":23.0},{"d":64,"v":23.7},
{"d":65,"v":3.1},{"d":65,"v":5.6},{"d":65,"v":8.1},{"d":65,"v":10.6},{"d":65,"v":13.1},{"d":65,"v":21.6},{"d":65,"v":24.3},
{"d":66,"v":2.2},{"d":66,"v":4.8},{"d":66,"v":7.4},{"d":66,"v":10.0},{"d":66,"v":12.6},{"d":66,"v":15.2},{"d":66,"v":30.0},
{"d":67,"v":3.6},{"d":67,"v":6.3},{"d":67,"v":9.0},{"d":67,"v":11.7},{"d":67,"v":14.4},{"d":67,"v":19.0},
{"d":68,"v":1.4},{"d":68,"v":4.4},{"d":68,"v":7.2},{"d":68,"v":10.0},{"d":68,"v":12.8},{"d":68,"v":18.1},{"d":68,"v":28.5},
{"d":69,"v":2.9},{"d":69,"v":5.8},{"d":69,"v":8.7},{"d":69,"v":11.6},{"d":69,"v":14.5},{"d":69,"v":18.6},
{"d":70,"v":3.9},{"d":70,"v":6.9},{"d":70,"v":9.9},{"d":70,"v":12.9},{"d":70,"v":22.4},{"d":70,"v":25.5},
{"d":71,"v":1.8},{"d":71,"v":5.0},{"d":71,"v":8.2},{"d":71,"v":11.4},{"d":71,"v":14.6},
{"d":72,"v":3.0},{"d":72,"v":6.3},{"d":72,"v":9.6},{"d":72,"v":12.9},{"d":72,"v":19.4},
{"d":73,"v":2.3},{"d":73,"v":5.7},{"d":73,"v":9.1},{"d":73,"v":12.5},{"d":73,"v":17.8},
{"d":74,"v":3.5},{"d":74,"v":7.0},{"d":74,"v":10.5},{"d":74,"v":14.0},
{"d":75,"v":1.6},{"d":75,"v":4.9},{"d":75,"v":8.4},{"d":75,"v":11.9},{"d":75,"v":15.1},
{"d":76,"v":2.7},{"d":76,"v":6.3},{"d":76,"v":9.9},{"d":76,"v":13.5},
{"d":77,"v":3.9},{"d":77,"v":7.6},{"d":77,"v":11.3},{"d":77,"v":15.0},
{"d":78,"v":1.9},{"d":78,"v":5.5},{"d":78,"v":9.2},{"d":78,"v":12.9},
{"d":79,"v":3.2},{"d":79,"v":7.0},{"d":79,"v":10.8},
{"d":80,"v":2.4},{"d":80,"v":6.2},{"d":80,"v":10.1},{"d":80,"v":14.0},{"d":80,"v":20.3},
{"d":81,"v":3.6},{"d":81,"v":7.5},{"d":81,"v":11.4},
{"d":82,"v":1.5},{"d":82,"v":5.4},{"d":82,"v":9.4},{"d":82,"v":13.4},
{"d":83,"v":2.8},{"d":83,"v":6.8},{"d":83,"v":10.8},
{"d":84,"v":3.9},{"d":84,"v":8.0},{"d":84,"v":14.3},
{"d":85,"v":2.1},{"d":85,"v":6.2},{"d":85,"v":10.3},
{"d":86,"v":3.3},{"d":86,"v":7.5},{"d":86,"v":17.7},
{"d":87,"v":1.8},{"d":87,"v":5.9},{"d":87,"v":11.5},
{"d":88,"v":2.6},{"d":88,"v":6.8},
{"d":89,"v":1.4},{"d":89,"v":2.0},{"d":89,"v":5.0}
]
},
"spacing":135,
"bounds":"flush",
"hconcat":[
{
"width":625,"height":561,
"title":{"text":"A","anchor":"start","frame":"group","dx":-98,"offset":-18,"baseline":"alphabetic","font":"Liberation Sans","fontSize":31,"fontWeight":"bold","color":"black"},
"layer":[
{"data":{"name":"ptsA"},"mark":{"type":"circle","size":13,"color":"black","opacity":1},
"encoding":{
"x":{"field":"d","type":"quantitative","scale":{"domain":[-3.6,93.6],"nice":false,"zero":false},"axis":{"values":[0,20,40,60,80],"title":"Postnatal Age (Days)","labelPadding":44,"labelBaseline":"alphabetic","titleX":312.5,"titleY":99,"titleBaseline":"alphabetic","titleAlign":"center"}},
"y":{"field":"v","type":"quantitative","scale":{"domain":[-1.2,31.2],"nice":false,"zero":false},"axis":{"values":[0,5,10,15,20,25,30],"labelAngle":-90,"labelAlign":"center","labelBaseline":"alphabetic","labelPadding":23,"title":"Micro-R (%)","titleX":-88,"titleY":280.5,"titleAngle":-90,"titleBaseline":"alphabetic","titleAlign":"center"}}}},
{"data":{"name":"linA"},"mark":{"type":"line","color":"black","strokeWidth":3},
"encoding":{"x":{"field":"d","type":"quantitative"},"y":{"field":"v","type":"quantitative"},"detail":{"field":"q","type":"nominal"},
"strokeDash":{"field":"q","type":"nominal","scale":{"domain":["lo","med","hi"],"range":[[18,12],[1,0],[18,12]]},"legend":null}}}
]
},
{
"width":625,"height":561,
"title":{"text":"B","anchor":"start","frame":"group","dx":-106,"offset":-18,"baseline":"alphabetic","font":"Liberation Sans","fontSize":31,"fontWeight":"bold","color":"black"},
"layer":[
{"data":{"name":"ptsB"},"mark":{"type":"circle","size":13,"color":"black","opacity":1},
"encoding":{
"x":{"field":"d","type":"quantitative","scale":{"domain":[-3.6,93.6],"nice":false,"zero":false},"axis":{"values":[0,20,40,60,80],"title":"Postnatal Age (Days)","labelPadding":44,"labelBaseline":"alphabetic","titleX":312.5,"titleY":99,"titleBaseline":"alphabetic","titleAlign":"center"}},
"y":{"field":"v","type":"quantitative","scale":{"domain":[-1.2,31.2],"nice":false,"zero":false},"axis":{"values":[0,5,10,15,20,25,30],"labelAngle":-90,"labelAlign":"center","labelBaseline":"alphabetic","labelPadding":23,"title":"HYPO-He (%)","titleX":-88,"titleY":280.5,"titleAngle":-90,"titleBaseline":"alphabetic","titleAlign":"center"}}}},
{"data":{"name":"linB"},"mark":{"type":"line","color":"black","strokeWidth":3},
"encoding":{"x":{"field":"d","type":"quantitative"},"y":{"field":"v","type":"quantitative"},"detail":{"field":"q","type":"nominal"},
"strokeDash":{"field":"q","type":"nominal","scale":{"domain":["lo","med","hi"],"range":[[18,12],[1,0],[18,12]]},"legend":null}}}
]
}
]
}
